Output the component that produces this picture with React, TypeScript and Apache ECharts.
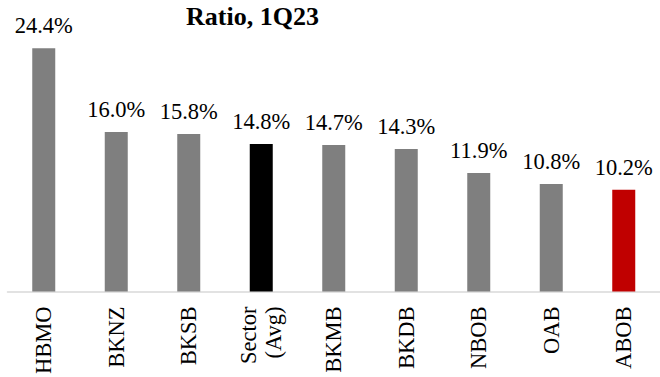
import React, { useEffect, useRef } from "react";
import * as echarts from "echarts";

const categories = ["HBMO", "BKNZ", "BKSB", "Sector\n(Avg)", "BKMB", "BKDB", "NBOB", "OAB", "ABOB"];
const ratioValues = [24.4, 16.0, 15.8, 14.8, 14.7, 14.3, 11.9, 10.8, 10.2];
const titleText = "Ratio, 1Q23";
const averageCategory = "Sector\n(Avg)";
const focusCategory = "ABOB";

const FONT = "'Liberation Serif', 'Times New Roman', serif";

export default function App() {
  const ref = useRef<HTMLDivElement>(null);
  useEffect(() => {
    document.body.style.margin = "0";
    document.body.style.overflow = "hidden";
    if (!ref.current) return;
    const chart = echarts.init(ref.current, undefined, { renderer: "svg" });
    chart.setOption({
      animation: false,
      backgroundColor: "#ffffff",
      title: {
        text: titleText,
        left: 181,
        top: -2,
        textStyle: { fontFamily: FONT, fontWeight: "bold", fontSize: 26, color: "#000000" },
      },
      grid: { left: 7.5, right: -4.5, top: 12.5, bottom: 79 },
      xAxis: {
        type: "category",
        data: categories,
        axisLine: { show: true, lineStyle: { color: "#d9d9d9", width: 1.5 } },
        axisTick: { show: false },
        axisLabel: {
          rotate: 90,
          interval: 0,
          margin: 15,
          fontFamily: FONT,
          fontSize: 22.5,
          color: "#000000",
          lineHeight: 25,
        },
      },
      yAxis: {
        type: "value",
        min: 0,
        max: 28,
        show: false,
        splitLine: { show: false },
      },
      series: [
        {
          type: "bar",
          data: ratioValues,
          barWidth: 23,
          itemStyle: {
            color: (p: any) =>
              p.name === averageCategory ? "#000000" : p.name === focusCategory ? "#c00000" : "#7f7f7f",
          },
          label: {
            show: true,
            position: "top",
            distance: 11,
            fontFamily: FONT,
            fontSize: 22.5,
            color: "#000000",
            formatter: (p: any) => p.value.toFixed(1) + "%",
          },
        },
      ],
    });
    return () => chart.dispose();
  }, []);
  return <div ref={ref} style={{ width: 660, height: 377, position: "absolute", left: 0, top: 0 }} />;
}
